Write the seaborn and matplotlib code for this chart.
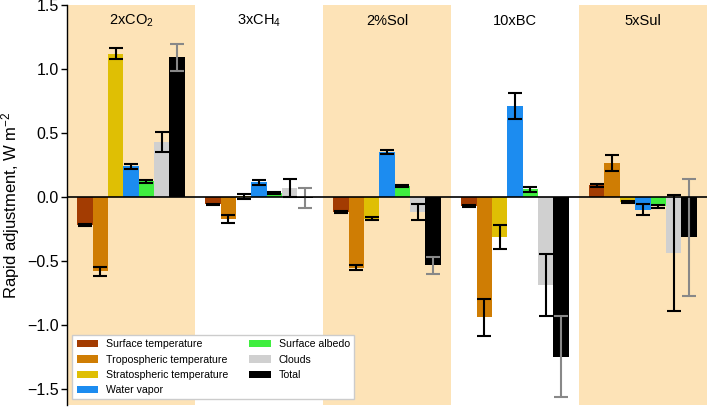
import pandas as pd
import matplotlib
matplotlib.use("Agg")
import matplotlib.pyplot as plt
import numpy as np
import seaborn as sns

# experiments (x groups) and adjustment components (hue)
experiments = ["2xCO$_2$", "3xCH$_4$", "2%Sol", "10xBC", "5xSul"]
components = [
    "Surface temperature",
    "Tropospheric temperature",
    "Stratospheric temperature",
    "Water vapor",
    "Surface albedo",
    "Clouds",
    "Total",
]

# values per component, one entry per experiment (W m-2)
surface_temp = [-0.22, -0.06, -0.12, -0.07, 0.09]
trop_temp = [-0.58, -0.175, -0.555, -0.94, 0.265]
strat_temp = [1.12, 0.005, -0.17, -0.315, -0.04]
water_vapor = [0.24, 0.115, 0.35, 0.71, -0.10]
surface_albedo = [0.12, 0.03, 0.085, 0.06, -0.075]
clouds = [0.43, 0.07, -0.12, -0.69, -0.44]
total = [1.09, -0.01, -0.535, -1.25, -0.315]

# error bar half-widths
surface_temp_err = [0.01, 0.005, 0.008, 0.008, 0.01]
trop_temp_err = [0.035, 0.03, 0.02, 0.145, 0.065]
strat_temp_err = [0.04, 0.02, 0.01, 0.095, 0.008]
water_vapor_err = [0.02, 0.02, 0.015, 0.105, 0.04]
surface_albedo_err = [0.015, 0.005, 0.01, 0.02, 0.01]
clouds_err = [0.08, 0.07, 0.06, 0.24, 0.455]
total_err = [0.105, 0.077, 0.065, 0.315, 0.457]

colors = ["#a33c02", "#cf7d04", "#dfbf04", "#1c8cf0", "#3fee3f", "#d0d0d0", "#000000"]
band_color = "#fde3b7"

values = [surface_temp, trop_temp, strat_temp, water_vapor, surface_albedo, clouds, total]
errors = [surface_temp_err, trop_temp_err, strat_temp_err, water_vapor_err,
          surface_albedo_err, clouds_err, total_err]

rows = []
for comp, vals, errs in zip(components, values, errors):
    for exp, v, e in zip(experiments, vals, errs):
        rows.append({"experiment": exp, "component": comp, "value": v, "err": e})
df = pd.DataFrame(rows)

plt.rcParams["font.family"] = ["Liberation Sans", "DejaVu Sans"]
plt.rcParams["mathtext.fontset"] = "custom"
plt.rcParams["mathtext.rm"] = "Liberation Sans"
plt.rcParams["mathtext.it"] = "Liberation Sans:italic"

fig, ax = plt.subplots(figsize=(7.09, 4.08), dpi=100)
fig.subplots_adjust(left=0.0945, right=0.997, top=0.988, bottom=0.008)

# shaded bands behind alternate experiments
for i in range(0, len(experiments), 2):
    ax.axvspan(i - 0.5, i + 0.5, color=band_color, lw=0, zorder=0)

sns.barplot(
    data=df,
    x="experiment",
    y="value",
    hue="component",
    hue_order=components,
    order=experiments,
    palette=colors,
    width=0.84,
    gap=0,
    saturation=1,
    errorbar=None,
    ax=ax,
    zorder=2,
)

# error bars, centred on each bar
for comp, container in zip(components, ax.containers):
    sub = df[df["component"] == comp].set_index("experiment").loc[experiments]
    xs = [b.get_x() + b.get_width() / 2 for b in container]
    ecol = "#888888" if comp == "Total" else "black"
    ax.errorbar(xs, sub["value"], yerr=sub["err"], fmt="none", ecolor=ecol,
                elinewidth=1.5, capsize=5, capthick=1.5, zorder=3)

ax.axhline(0, color="black", lw=1.2, zorder=4)

for i, name in enumerate(experiments):
    ax.text(i, 1.375, name, ha="center", va="center", fontsize=10.5)

ax.set_xlim(-0.5, 4.5)
ax.set_ylim(-1.625, 1.5)
ax.set_yticks([-1.5, -1.0, -0.5, 0.0, 0.5, 1.0, 1.5])
ax.set_xticks([])
ax.set_xlabel("")
ax.set_ylabel("Rapid adjustment, W m$^{-2}$", fontsize=12)
ax.yaxis.set_label_coords(-0.071, 0.5)
ax.tick_params(axis="y", labelsize=11.5, length=4, width=1, pad=2)
for side in ["top", "right", "bottom"]:
    ax.spines[side].set_visible(False)
ax.spines["left"].set_linewidth(1)

ax.legend(loc="lower left", ncol=2, fontsize=7.6, frameon=True, framealpha=1,
          edgecolor="#cccccc", fancybox=False, title=None)

plt.savefig("out.png", dpi=100)
